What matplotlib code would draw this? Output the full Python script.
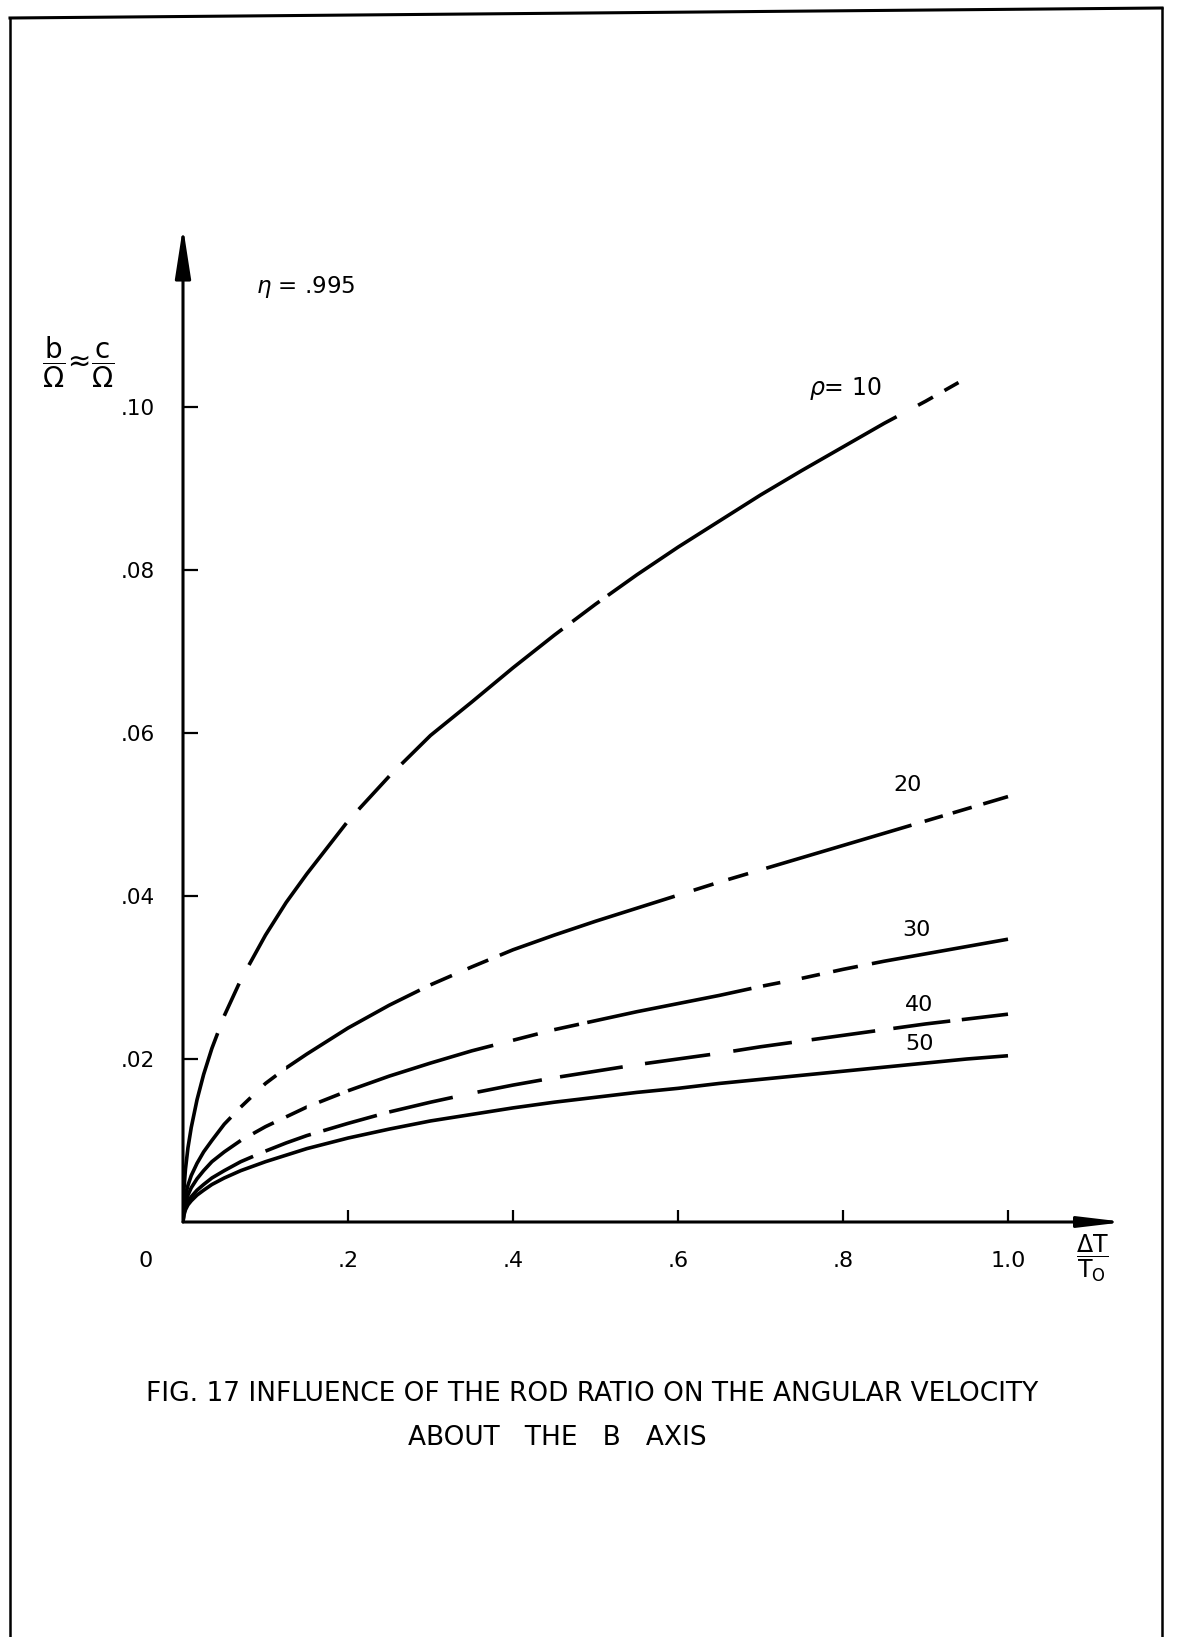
import numpy as np
import matplotlib.pyplot as plt

plt.rcParams['font.family'] = ['DejaVu Sans']
plt.rcParams['mathtext.fontset'] = 'dejavusans'
plt.rcParams['lines.scale_dashes'] = False

# values (eta = .995)
x_rho10 = [0, 0.001, 0.003, 0.006, 0.01, 0.017, 0.025, 0.035, 0.05, 0.07, 0.1, 0.125, 0.15,
           0.2, 0.25, 0.3, 0.35, 0.4, 0.45, 0.5, 0.55, 0.6, 0.65, 0.7, 0.75, 0.8, 0.85, 0.9, 0.94]
b_rho10 = [0, 0.0038, 0.0065, 0.0091, 0.0116, 0.0150, 0.0181, 0.0213, 0.0253, 0.0297, 0.0352,
           0.0392, 0.0427, 0.0492, 0.0547, 0.0597, 0.0638, 0.0680, 0.0720, 0.0758, 0.0794,
           0.0828, 0.0860, 0.0892, 0.0922, 0.0951, 0.0980, 0.1007, 0.1030]

x_vals = [0, 0.001, 0.003, 0.006, 0.01, 0.017, 0.025, 0.035, 0.05, 0.07, 0.1, 0.125, 0.15,
          0.2, 0.25, 0.3, 0.35, 0.4, 0.45, 0.5, 0.55, 0.6, 0.65, 0.7, 0.75, 0.8, 0.85, 0.9, 0.95, 1.0]
b_rho20 = [0, 0.0020, 0.0033, 0.0045, 0.0057, 0.0072, 0.0086, 0.0100, 0.0120, 0.0141, 0.0170,
           0.0189, 0.0206, 0.0238, 0.0266, 0.0291, 0.0313, 0.0334, 0.0352, 0.0369, 0.0385,
           0.0401, 0.0417, 0.0432, 0.0447, 0.0462, 0.0477, 0.0492, 0.0507, 0.0522]
b_rho30 = [0, 0.0014, 0.0024, 0.0033, 0.0042, 0.0053, 0.0063, 0.0074, 0.0086, 0.0100, 0.0117,
           0.0129, 0.0141, 0.0161, 0.0179, 0.0195, 0.0210, 0.0223, 0.0236, 0.0247, 0.0258,
           0.0268, 0.0278, 0.0289, 0.0299, 0.0310, 0.0320, 0.0329, 0.0338, 0.0347]
b_rho40 = [0, 0.0010, 0.0018, 0.0025, 0.0031, 0.0039, 0.0046, 0.0054, 0.0063, 0.0074, 0.0087,
           0.0097, 0.0106, 0.0121, 0.0135, 0.0147, 0.0158, 0.0168, 0.0177, 0.0185, 0.0193,
           0.0200, 0.0207, 0.0215, 0.0222, 0.0229, 0.0236, 0.0243, 0.0249, 0.0255]
b_rho50 = [0, 0.0008, 0.0015, 0.0021, 0.0026, 0.0033, 0.0039, 0.0046, 0.0054, 0.0063, 0.0074,
           0.0082, 0.0090, 0.0103, 0.0114, 0.0124, 0.0132, 0.0140, 0.0147, 0.0153, 0.0159,
           0.0164, 0.0170, 0.0175, 0.0180, 0.0185, 0.0190, 0.0195, 0.0200, 0.0204]

x_ticks = [0.2, 0.4, 0.6, 0.8, 1.0]
x_tick_labels = ['.2', '.4', '.6', '.8', '1.0']
y_ticks = [0.02, 0.04, 0.06, 0.08, 0.10]
y_tick_labels = ['.02', '.04', '.06', '.08', '.10']

# inked stretches of each hand drawn curve (x ranges), the rest is left blank
ink_rho10 = [(0, 0.042), (0.05, 0.068), (0.08, 0.198), (0.213, 0.25), (0.265, 0.46),
             (0.472, 0.505), (0.515, 0.865), (0.891, 0.909), (0.923, 0.94)]
ink_rho20 = [(0, 0.058), (0.07, 0.082), (0.098, 0.113), (0.125, 0.287), (0.30, 0.326),
             (0.345, 0.37), (0.384, 0.596), (0.619, 0.643), (0.661, 0.685), (0.707, 0.883),
             (0.899, 0.921), (0.933, 0.956), (0.970, 1.0)]
ink_rho30 = [(0, 0.07), (0.085, 0.11), (0.125, 0.15), (0.165, 0.19), (0.2, 0.376),
             (0.40, 0.43), (0.45, 0.48), (0.49, 0.689), (0.703, 0.724), (0.75, 0.772),
             (0.788, 0.818), (0.835, 1.0)]
ink_rho40 = [(0, 0.085), (0.1, 0.155), (0.17, 0.235), (0.25, 0.327), (0.357, 0.435),
             (0.457, 0.533), (0.56, 0.639), (0.667, 0.738), (0.762, 0.839), (0.861, 0.93),
             (0.944, 1.0)]
ink_rho50 = [(0, 1.0)]

DPI = 100
X_END = 942 / 825     # arrow tip of the abscissa
Y_END = 995 / 8150    # arrow tip of the ordinate
fig = plt.figure(figsize=(11.84, 16.37), dpi=DPI)
ax = fig.add_axes([183 / 1184, 1 - 1222 / 1637, 942 / 1184, 995 / 1637])
ax.set_xlim(0, X_END)
ax.set_ylim(0, Y_END)
for s in ax.spines.values():
    s.set_visible(False)


def draw_curve(x, y, ink, lw=2.6):
    line, = ax.plot(x, y, color='black', lw=lw, dash_capstyle='butt', solid_capstyle='butt',
                    solid_joinstyle='round')
    if len(ink) == 1:
        return
    pix = ax.transData.transform(np.column_stack([x, y]))
    arc = np.concatenate([[0], np.cumsum(np.hypot(*np.diff(pix, axis=0).T))])
    at = lambda v: np.interp(v, x, arc)
    seq = []
    for i, (a, b) in enumerate(ink):
        seq.append(at(b) - at(a))
        nxt = ink[i + 1][0] if i + 1 < len(ink) else None
        seq.append(at(nxt) - at(b) if nxt is not None else 2000)
    seq = [max(v, 0.5) * 72 / DPI for v in seq]
    line.set_dashes(seq)


draw_curve(x_rho10, b_rho10, ink_rho10)
draw_curve(x_vals, b_rho20, ink_rho20)
draw_curve(x_vals, b_rho30, ink_rho30)
draw_curve(x_vals, b_rho40, ink_rho40)
draw_curve(x_vals, b_rho50, ink_rho50)

# axes drawn as arrows
ax.annotate('', xy=(0, Y_END), xytext=(0, 0), xycoords='data',
            arrowprops=dict(arrowstyle='-|>,head_length=1.55,head_width=0.24', lw=2.2,
                            color='black', shrinkA=0, shrinkB=0, mutation_scale=20),
            annotation_clip=False)
ax.annotate('', xy=(X_END, 0), xytext=(0, 0), xycoords='data',
            arrowprops=dict(arrowstyle='-|>,head_length=1.35,head_width=0.16', lw=2.2,
                            color='black', shrinkA=0, shrinkB=0, mutation_scale=20),
            annotation_clip=False)

ax.set_xticks(x_ticks)
ax.set_xticklabels(x_tick_labels)
ax.set_yticks(y_ticks)
ax.set_yticklabels(y_tick_labels)
ax.tick_params(axis='x', direction='in', length=9, width=1.6, pad=21, labelsize=16)
ax.tick_params(axis='y', direction='in', length=11, width=1.6, pad=20, labelsize=15.5)

fig.text(146 / 1184, 1 - 1261 / 1637, '0', ha='center', va='center', fontsize=16)
fig.text(1092 / 1184, 1 - 1258 / 1637, r'$\dfrac{\Delta\mathrm{T}}{\mathrm{T_O}}$',
         ha='center', va='center', fontsize=17)
fig.text(78 / 1184, 1 - 362 / 1637,
         r'$\dfrac{\mathrm{b}}{\Omega}\!\approx\!\dfrac{\mathrm{c}}{\Omega}$',
         ha='center', va='center', fontsize=20)
fig.text(256 / 1184, 1 - 287 / 1637, r'$\eta$ = .995', ha='left', va='center', fontsize=16.5)

# curve labels
fig.text(809 / 1184, 1 - 389 / 1637, r'$\rho$= 10', ha='left', va='center', fontsize=17)
fig.text(908 / 1184, 1 - 785 / 1637, '20', ha='center', va='center', fontsize=16)
fig.text(916 / 1184, 1 - 930 / 1637, '30', ha='center', va='center', fontsize=16)
fig.text(919 / 1184, 1 - 1005 / 1637, '40', ha='center', va='center', fontsize=16)
fig.text(920 / 1184, 1 - 1044 / 1637, '50', ha='center', va='center', fontsize=16)

fig.text(592 / 1184, 1 - 1394 / 1637,
         'FIG. 17 INFLUENCE OF THE ROD RATIO ON THE ANGULAR VELOCITY',
         ha='center', va='center', fontsize=19)
fig.text(557 / 1184, 1 - 1438 / 1637, 'ABOUT   THE   B   AXIS',
         ha='center', va='center', fontsize=19)

# page frame of the scanned sheet
fig.add_artist(plt.Line2D([10 / 1184, 10 / 1184], [0, 1 - 18 / 1637], color='black', lw=1.8))
fig.add_artist(plt.Line2D([1162 / 1184, 1162 / 1184], [0, 1 - 8 / 1637], color='black', lw=1.8))
fig.add_artist(plt.Line2D([10 / 1184, 1162 / 1184], [1 - 18 / 1637, 1 - 8 / 1637],
                          color='black', lw=2.2))

fig.savefig('out.png', dpi=DPI, facecolor='white')
